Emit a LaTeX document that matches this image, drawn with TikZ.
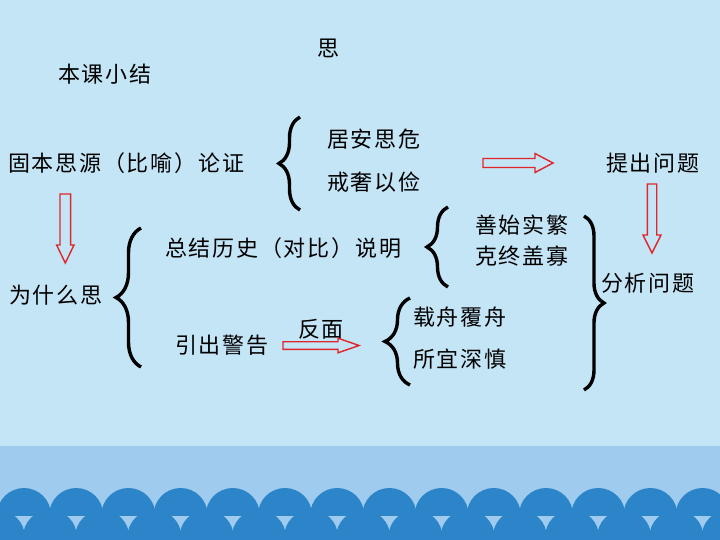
\documentclass[tikz,border=0pt]{standalone}
\usepackage{fontspec}
\newfontfamily\cjk[LetterSpace=8]{Noto Sans CJK SC}
\usetikzlibrary{decorations.pathreplacing}
\definecolor{bgLight}{HTML}{C4E5F6}
\definecolor{bgBand}{HTML}{9FCBEE}
\definecolor{wave}{HTML}{2B85C8}
\definecolor{arrowred}{HTML}{E0262A}
\tikzset{
  txt/.style={font=\cjk\fontsize{22}{26}\selectfont, inner sep=0pt, anchor=west, text=black},
  blk/.style={draw=arrowred, line width=1.4pt, line join=miter},
  bracestyle/.style={decorate, decoration={brace, amplitude=#1}, line width=3.4pt, black},
  pics/rblk/.style args={#1/#2/#3/#4}{code={
    \draw[blk] (0,-#2) -- (#1-#4,-#2) -- (#1-#4,-#3) -- (#1,0) -- (#1-#4,#3) -- (#1-#4,#2) -- (0,#2) -- cycle;
  }}
}
\begin{document}
\begin{tikzpicture}[x=1pt,y=-1pt]
\useasboundingbox (0,0) rectangle (720,540);
% background
\fill[bgLight] (0,0) rectangle (720,540);
\fill[bgBand] (0,446) rectangle (720,540);
\begin{scope}
  \clip (0,446) rectangle (720,515);
  \foreach \k in {0,...,14} \fill[wave] (24+52.2*\k,515) circle[radius=27];
\end{scope}
\begin{scope}
  \clip (0,446) rectangle (720,540);
  \foreach \k in {-1,...,14} \fill[wave] (50+52.2*\k,537) circle[radius=27];
\end{scope}

% texts
\node[txt, anchor=center] (si) at (328,48) {思};
\node[txt] (bkxj) at (58,74) {本课小结};
\node[txt] (gbsy) at (8,163) {固本思源（比喻）论证};
\node[txt] (jasw) at (327,139) {居安思危};
\node[txt] (jsyj) at (327,182) {戒奢以俭};
\node[txt] (tcwt) at (606,163) {提出问题};
\node[txt] (wsms) at (9,295) {为什么思};
\node[txt] (zjls) at (165,248) {总结历史（对比）说明};
\node[txt] (sssf) at (475,225) {善始实繁};
\node[txt] (kzgg) at (475,256) {克终盖寡};
\node[txt] (fxwt) at (601,283) {分析问题};
\node[txt] (ycjg) at (175,345) {引出警告};
\node[txt] (fm)   at (298,329) {反面};
\node[txt] (zzfz) at (413,317) {载舟覆舟};
\node[txt] (sysz) at (413,359) {所宜深慎};

% braces
\draw[bracestyle=21] (300,210) -- (300,117);
\draw[bracestyle=25] (141,367) -- (141,228);
\draw[bracestyle=21] (448,287) -- (448,207);
\draw[bracestyle=25] (410,385) -- (410,298);
\draw[bracestyle=20] (584,216) -- (584,390);

% block arrows
\pic at (483,163) {rblk=70/4.5/9.5/18};
\pic at (283,345.5) {rblk=76/3.8/7.3/21};
\pic[rotate=-90] at (65.3,194) {rblk=69/5.3/8.7/18};
\pic[rotate=-90] at (652,184) {rblk=69/4.7/9/18};
\end{tikzpicture}
\end{document}
